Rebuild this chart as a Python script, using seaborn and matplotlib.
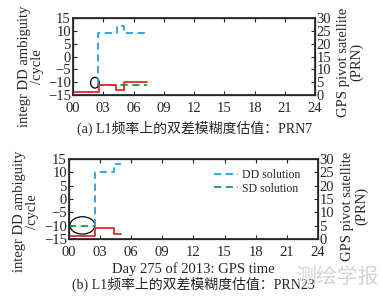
import pandas as pd
import seaborn as sns
import matplotlib.pyplot as plt
from matplotlib.patches import Ellipse

# 数据 (时间: 小时)
# (a) PRN7
a_dd_t = [2.5, 2.5, 4.33, 5.06, 7.2]
a_dd_v = [-11, 9, 12, 9, 9]
a_sd_t = [2.35, 7.3]
a_sd_v = [-11, -11]
a_piv_t = [0, 2.6, 4.3, 5.1, 7.3]
a_piv_prn = [1, 4, 2, 5, 5]

# (b) PRN23
b_dd_t = [2.5, 2.5, 4.35, 5.0]
b_dd_v = [-10, 10, 13, 13]
b_sd_t = [0, 2.5]
b_sd_v = [-10, -10]
b_piv_t = [0, 2.5, 4.3, 5.0]
b_piv_prn = [1, 4, 2, 2]

xticks = list(range(0, 25, 3))
xlabels = ['%02d' % t for t in xticks]

sns.set_theme(style='ticks')
plt.rcParams['font.family'] = ['Liberation Serif', 'Noto Sans CJK SC']
plt.rcParams['font.size'] = 10.5
plt.rcParams['xtick.direction'] = 'in'
plt.rcParams['ytick.direction'] = 'in'

c_dd = '#1fa3e6'
c_sd = '#12a04c'
c_piv = '#e8262a'
fs = 10.5

fig = plt.figure(figsize=(3.83, 3.0), dpi=100)
ax1 = fig.add_axes([0.1906, 0.6833, 0.632, 0.2567])
ax2 = fig.add_axes([0.180, 0.2033, 0.650, 0.2667])


def panel(ax, dd_t, dd_v, sd_t, sd_v, piv_t, piv_prn, lpos, rpos, legend=False):
    sns.lineplot(x=dd_t, y=dd_v, ax=ax, color=c_dd, ls=(0, (4, 2.5)), lw=1.3,
                 sort=False, drawstyle='steps-post', estimator=None,
                 label='DD solution' if legend else None)
    sns.lineplot(x=sd_t, y=sd_v, ax=ax, color=c_sd, ls=(0, (4, 2.5)), lw=1.3,
                 sort=False, drawstyle='steps-post', estimator=None,
                 label='SD solution' if legend else None)
    ax.set_xlim(0, 24)
    ax.set_ylim(-15, 15)
    ax.set_yticks(range(-15, 16, 5))
    ax.set_xticks(xticks)
    ax.set_xticklabels(xlabels)
    ax.tick_params(axis='x', top=True, length=3, width=0.8, pad=5, labelsize=fs)
    ax.tick_params(axis='y', length=3, width=0.8, pad=1.5, labelsize=fs)
    ax.set_ylabel('integr DD ambiguity\n/cycle', fontsize=fs, linespacing=1.0,
                  ha='center', va='center')
    ax.yaxis.set_label_coords(*lpos)
    for s in ax.spines.values():
        s.set_linewidth(0.9)
    axr = ax.twinx()
    sns.lineplot(x=piv_t, y=piv_prn, ax=axr, color=c_piv, lw=1.3,
                 sort=False, drawstyle='steps-post', estimator=None)
    axr.set_ylim(0, 30)
    axr.set_yticks(range(0, 31, 5))
    axr.tick_params(length=3, width=0.8, pad=1, labelsize=fs)
    axr.set_ylabel('GPS pivot satellite\n(PRN)', fontsize=fs, linespacing=1.0,
                   ha='center', va='center')
    axr.yaxis.set_label_coords(*rpos)
    return axr


panel(ax1, a_dd_t, a_dd_v, a_sd_t, a_sd_v, a_piv_t, a_piv_prn,
      (-0.172, 0.37), (1.145, 0.43))
ax1.add_patch(Ellipse((2.17, -10.2), 0.85, 4.2, fill=False, ec='black', lw=0.9))
ax1.set_xlabel('')

axr2 = panel(ax2, b_dd_t, b_dd_v, b_sd_t, b_sd_v, b_piv_t, b_piv_prn,
             (-0.172, 0.34), (1.148, 0.41), legend=True)
ax2.add_patch(Ellipse((1.3, -9.9), 2.4, 6.5, fill=False, ec='black', lw=0.9))
ax2.set_xlabel('Day 275 of 2013: GPS time', fontsize=fs, labelpad=2)
ax2.legend(loc='upper right', frameon=False, fontsize=8.5, handlelength=2.0,
           handletextpad=0.4, labelspacing=0.1, borderaxespad=0,
           bbox_to_anchor=(0.95, 0.93))

fig.text(0.508, 0.573, '(a) L1频率上的双差模糊度估值：PRN7', ha='center', va='center', fontsize=10)
fig.text(0.506, 0.053, '(b) L1频率上的双差模糊度估值：PRN23', ha='center', va='center', fontsize=10)
fig.text(0.88, 0.077, '测绘学报', ha='center', va='center', fontsize=15,
         color='#d4d4d4', family=['Noto Sans CJK SC'])

plt.savefig('out.png', dpi=100)
